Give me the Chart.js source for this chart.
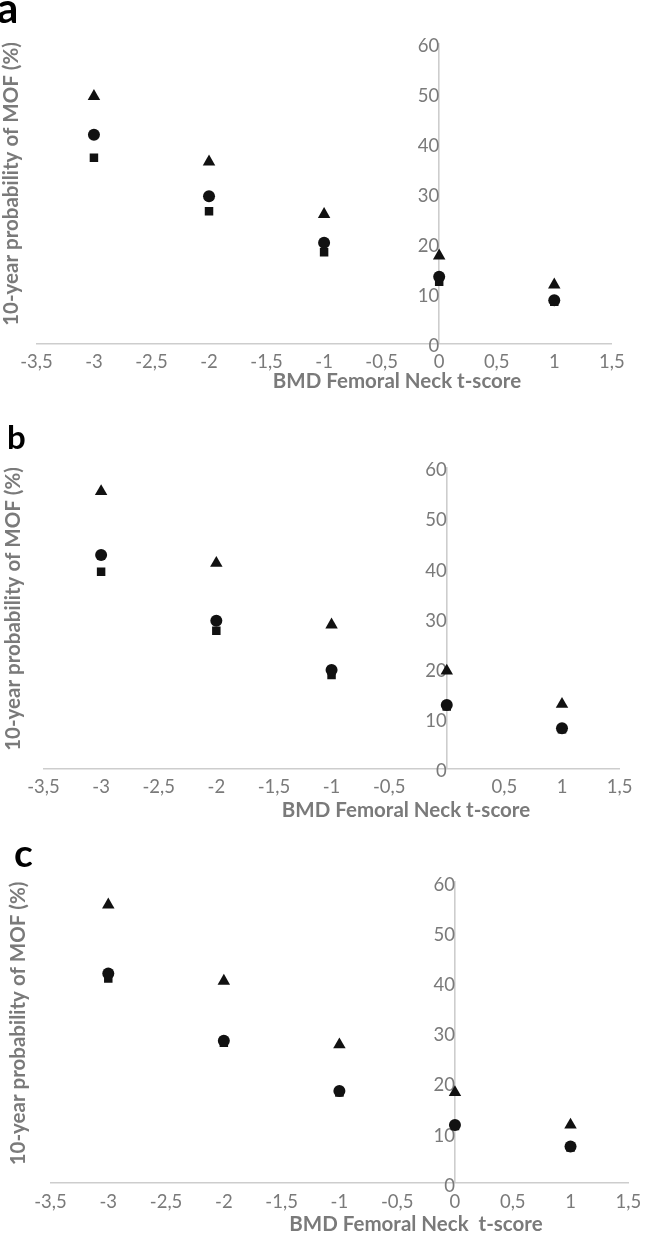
<!DOCTYPE html>
<html><head><meta charset="utf-8">
<script src="https://cdn.jsdelivr.net/npm/chart.js@4.4.1/dist/chart.umd.min.js"></script>
<style>
html,body{margin:0;padding:0;background:#fff;}
body{width:650px;height:1233px;position:relative;overflow:hidden;}
.panel{position:absolute;left:0;width:650px;}
canvas{display:block;}
</style></head><body>
<div class="panel" style="top:0;height:410px"><canvas id="ca" width="650" height="410"></canvas></div>
<div class="panel" style="top:410px;height:410px"><canvas id="cb" width="650" height="410"></canvas></div>
<div class="panel" style="top:820px;height:413px"><canvas id="cc" width="650" height="413"></canvas></div>
<script>
// ---- data ----
const tScores = [-3, -2, -1, 0, 1];

const aTriangle = [49.4, 36.3, 25.8, 17.5, 11.7];
const aCircle   = [41.7, 29.4, 20.1, 13.3, 8.6];
const aSquare   = [37.1, 26.4, 18.2, 12.3, 8.3];

const bTriangle = [55.2, 40.9, 28.6, 19.4, 12.8];
const bCircle   = [42.5, 29.4, 19.6, 12.6, 8.0];
const bSquare   = [39.2, 27.4, 18.6, 12.3, 7.8];

const cTriangle = [55.4, 40.2, 27.5, 18.0, 11.5];
const cCircle   = [41.7, 28.3, 18.3, 11.5, 7.2];
const cSquare   = [40.7, 27.9, 18.0, 11.3, 7.0];

const xTickLabels  = ['-3,5','-3','-2,5','-2','-1,5','-1','-0,5','0','0,5','1','1,5'];
const xTickLabelsB = ['-3,5','-3','-2,5','-2','-1,5','-1','-0,5','','0,5','1','1,5'];
const yTickLabels  = ['0','10','20','30','40','50','60'];

const yTitle   = '10-year probability of MOF (%)';
const xTitleAB = 'BMD Femoral Neck t-score';
const xTitleC  = 'BMD Femoral Neck  t-score';

// ---- styles ----
const FONT = 'Lato';
const GREY_TEXT = '#7a7a7a';
const AXIS_LINE = '#cdcdcd';
const MARK = '#111111';

const textPlugin = {
  id: 'panelText',
  afterDraw(chart, args, o) {
    const c = chart.ctx;
    c.save();
    c.fillStyle = '#000';
    c.font = `bold ${o.letterSize}px ${FONT}`;
    c.textAlign = 'left';
    c.textBaseline = 'alphabetic';
    c.fillText(o.letter, o.letterX, o.letterY);

    c.fillStyle = GREY_TEXT;
    c.font = `bold 20.5px ${FONT}`;
    c.textAlign = 'center';
    c.textBaseline = 'alphabetic';
    c.fillText(o.xTitle, o.xTitleX, o.xTitleY);

    c.translate(o.yTitleX, o.yTitleY);
    c.rotate(-Math.PI / 2);
    c.textBaseline = 'middle';
    c.fillText(yTitle, 0, 0);
    c.restore();
  }
};

function pts(vals) { return tScores.map((x, i) => ({ x: x, y: vals[i] })); }

function makePanel(id, p) {
  new Chart(document.getElementById(id), {
    type: 'scatter',
    data: {
      datasets: [
        { label: 'triangle', data: pts(p.tri), pointStyle: 'triangle', pointRadius: 7.2,
          backgroundColor: MARK, borderColor: MARK, borderWidth: 0, order: 0 },
        { label: 'circle', data: pts(p.cir), pointStyle: 'circle', pointRadius: 6,
          backgroundColor: MARK, borderColor: MARK, borderWidth: 0, order: 1 },
        { label: 'square', data: pts(p.sq), pointStyle: 'rect', pointRadius: 6,
          backgroundColor: MARK, borderColor: MARK, borderWidth: 0, order: 2 }
      ]
    },
    options: {
      responsive: false,
      animation: false,
      events: [],
      layout: { padding: { left: p.left, right: p.right, top: p.top, bottom: p.bottom } },
      plugins: {
        legend: { display: false },
        tooltip: { enabled: false },
        panelText: p.text
      },
      scales: {
        x: {
          type: 'linear', position: 'bottom', min: -3.5, max: 1.5,
          afterFit: s => { s.height = 40; },
          ticks: {
            stepSize: 0.5, autoSkip: false, maxRotation: 0, padding: 8,
            color: GREY_TEXT, font: { family: FONT, size: 18.5 },
            callback: (v, i) => p.xLabels[i]
          },
          grid: { display: false, drawTicks: false, tickLength: 0 },
          border: { display: true, color: AXIS_LINE, width: 1.6 }
        },
        y: {
          type: 'linear', position: { x: 0 }, min: 0, max: 60,
          ticks: {
            stepSize: 10, padding: 0, labelOffset: 3,
            color: GREY_TEXT, font: { family: FONT, size: 18.5 },
            callback: (v, i) => yTickLabels[i]
          },
          grid: { display: false, drawTicks: true, tickLength: 6 },
          border: { display: true, color: AXIS_LINE, width: 1.6 }
        }
      }
    },
    plugins: [textPlugin]
  });
}

makePanel('ca', {
  tri: aTriangle, cir: aCircle, sq: aSquare, xLabels: xTickLabels,
  left: 36.4, right: 38.2, top: 43.3, bottom: 26.7,
  text: { letter: 'a', letterSize: 42, letterX: -3, letterY: 23,
          xTitle: xTitleAB, xTitleX: 397, xTitleY: 388, yTitleX: 11, yTitleY: 184 }
});
makePanel('cb', {
  tri: bTriangle, cir: bCircle, sq: bSquare, xLabels: xTickLabelsB,
  left: 43.5, right: 30.4, top: 57.3, bottom: 11.7,
  text: { letter: 'b', letterSize: 33, letterX: 7, letterY: 39,
          xTitle: xTitleAB, xTitleX: 406, xTitleY: 407, yTitleX: 13, yTitleY: 199 }
});
makePanel('cc', {
  tri: cTriangle, cir: cCircle, sq: cSquare, xLabels: xTickLabels,
  left: 50.5, right: 21.7, top: 61.7, bottom: 10.3,
  text: { letter: 'c', letterSize: 39, letterX: 14, letterY: 47,
          xTitle: xTitleC, xTitleX: 416, xTitleY: 411, yTitleX: 18, yTitleY: 203.5 }
});
</script>
</body></html>
